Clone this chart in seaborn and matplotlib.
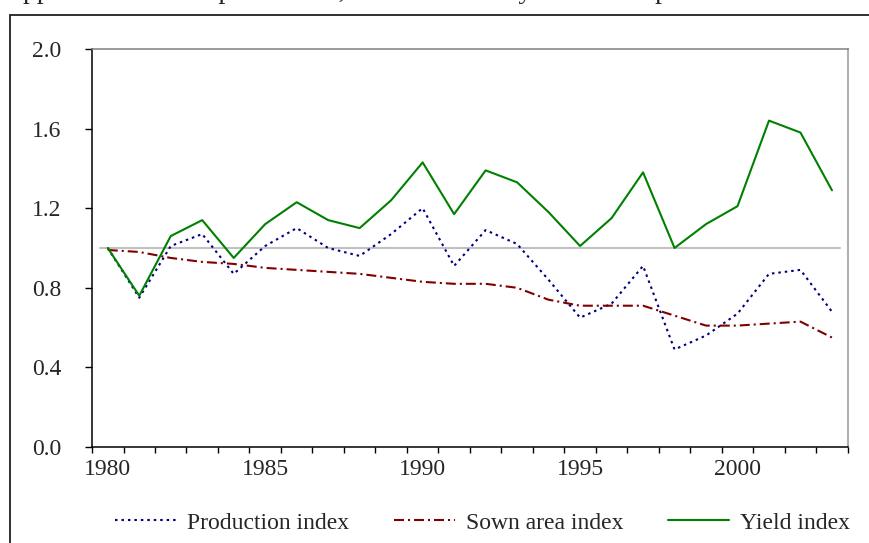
import numpy as np
import pandas as pd
import seaborn as sns
import matplotlib.pyplot as plt
from matplotlib.patches import Rectangle

years = list(range(1980, 2004))
production = [1.00, 0.75, 1.01, 1.07, 0.87, 1.01, 1.10, 1.00, 0.96, 1.07, 1.20,
              0.91, 1.09, 1.02, 0.84, 0.65, 0.72, 0.91, 0.49, 0.56, 0.67, 0.87,
              0.89, 0.68]
sown_area = [0.99, 0.98, 0.95, 0.93, 0.92, 0.90, 0.89, 0.88, 0.87, 0.85, 0.83,
             0.82, 0.82, 0.80, 0.74, 0.71, 0.71, 0.71, 0.66, 0.61, 0.61, 0.62,
             0.63, 0.55]
yield_idx = [1.00, 0.76, 1.06, 1.14, 0.95, 1.12, 1.23, 1.14, 1.10, 1.24, 1.43,
             1.17, 1.39, 1.33, 1.18, 1.01, 1.15, 1.38, 1.00, 1.12, 1.21, 1.64,
             1.58, 1.29]
labels = ["Production index", "Sown area index", "Yield index"]
title = "Appendix 4: Grain production, sown area and yield development in Kazakhstan"

df = pd.DataFrame({"year": years, labels[0]: production,
                   labels[1]: sown_area, labels[2]: yield_idx})

sns.set_style("white")
plt.rcParams["font.family"] = ["Liberation Serif", "DejaVu Serif"]

fig = plt.figure(figsize=(8.69, 5.43), dpi=100)
ax = fig.add_axes([0.1059, 0.1768, 0.8696, 0.733])

# reference line at index = 1
ax.axhline(1.0, xmin=0.01, xmax=0.99, color="#c0c0c0", lw=1.5, zorder=1)

sns.lineplot(data=df, x="year", y=labels[0], ax=ax, color="#000080", lw=1.5, label=labels[0])
ax.lines[-1].set_dashes((1.2, 1.9))
sns.lineplot(data=df, x="year", y=labels[1], ax=ax, color="#800000", lw=1.5, label=labels[1])
ax.lines[-1].set_dashes((4.8, 1.9, 1.0, 1.9))
sns.lineplot(data=df, x="year", y=labels[2], ax=ax, color="#008000", lw=1.5, label=labels[2])

ax.set_xlim(1979.5, 2003.5)
ax.set_ylim(0, 2.0)
ax.set_yticks(np.arange(0, 2.01, 0.4))
ax.set_yticklabels([f"{v:.1f}" for v in np.arange(0, 2.01, 0.4)])
ax.set_xticks([1980, 1985, 1990, 1995, 2000])
ax.set_xticks(np.arange(1979.5, 2004, 1), minor=True)
ax.tick_params(axis="x", which="major", length=0, pad=9, labelsize=17)
ax.tick_params(axis="x", which="minor", length=4, width=1, color="black", direction="out", bottom=True)
ax.tick_params(axis="y", length=5, width=1, color="black", direction="out", left=True, pad=17, labelsize=17)
ax.set_xlabel("")
ax.set_ylabel("")

for side in ["left", "bottom"]:
    ax.spines[side].set_color("black")
    ax.spines[side].set_linewidth(1.1)
ax.spines["top"].set_color("#808080")
ax.spines["right"].set_color("#b0b0b0")
ax.spines["top"].set_linewidth(1.1)
ax.spines["right"].set_linewidth(1.5)

ax.legend_.remove()
handles = [h for h in ax.lines[1:4]]
fig.legend(handles, labels, loc="center", bbox_to_anchor=(0.555, 0.037), ncol=3,
           frameon=False, fontsize=17, handlelength=2.6, handletextpad=0.45,
           columnspacing=1.9)

# outer chart frame (cut by the page edge)
fig.patches.append(Rectangle((10 / 869, -0.1), 1.2, 0.1 + (1 - 15 / 543),
                             transform=fig.transFigure, fill=False,
                             edgecolor="#202020", lw=1.3))
# page caption above the chart, mostly outside the crop
fig.text(0.004, 1.016, title, fontsize=20, ha="left", va="center")

fig.savefig("out.png", dpi=100)
